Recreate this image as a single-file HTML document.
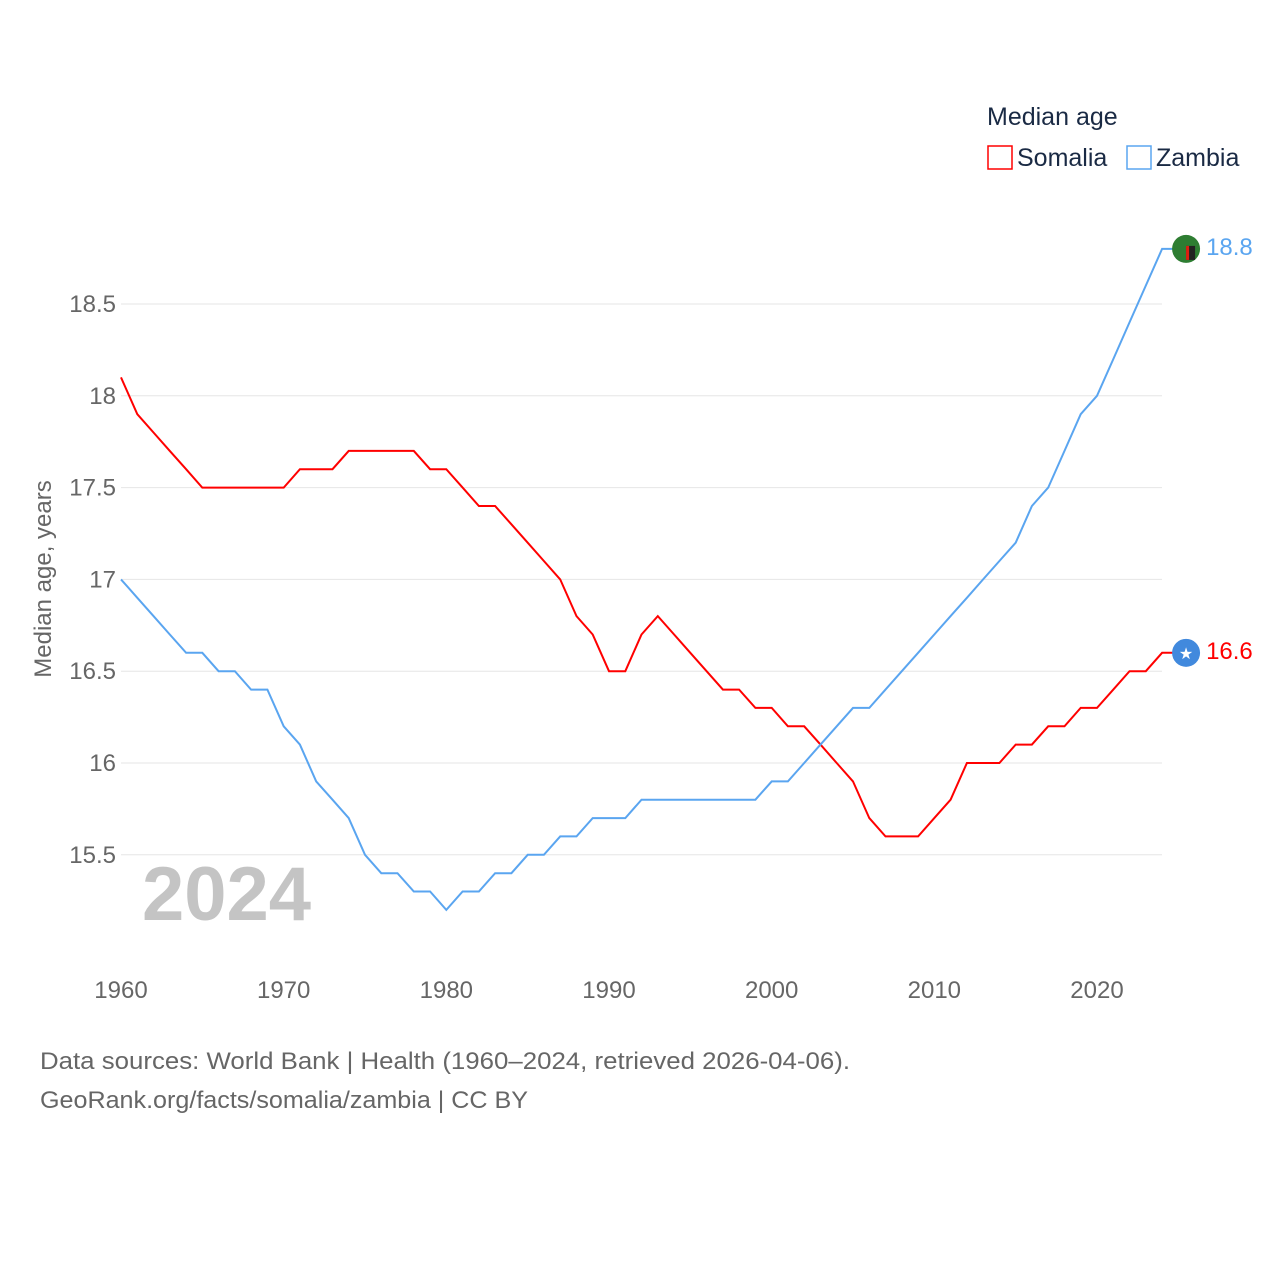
<!DOCTYPE html>
<html><head><meta charset="utf-8"><style>
body{margin:0;background:#fff;}
svg{display:block;font-family:"Liberation Sans",Lato,sans-serif;}
</style></head><body>
<svg id="chart" width="1280" height="1280" viewBox="0 0 1280 1280">
<g id="grid"></g>
<g id="yticks"></g>
<g id="xticks"></g>
<text x="51" y="579" transform="rotate(-90 51 579)" text-anchor="middle" font-size="24" fill="#666">Median age, years</text>
<text x="142" y="920" font-size="76" font-weight="bold" fill="#c4c4c4">2024</text>
<g id="series"></g>
<g>
<text x="987" y="125" font-size="25" fill="#1a2a44">Median age</text>
<g><rect x="988" y="146" width="24" height="23" fill="none" stroke="#f00" stroke-width="1.5"/><text x="1017" y="166" font-size="25" fill="#1a2a44">Somalia</text></g>
<g><rect x="1127" y="146" width="24" height="23" fill="none" stroke="#5aa5f0" stroke-width="1.5"/><text x="1156" y="166" font-size="25" fill="#1a2a44">Zambia</text></g>
</g>
<text x="40" y="1069" font-size="24" fill="#666" textLength="810" lengthAdjust="spacingAndGlyphs">Data sources: World Bank | Health (1960–2024, retrieved 2026-04-06).</text>
<text x="40" y="1108" font-size="24" fill="#666" textLength="488" lengthAdjust="spacingAndGlyphs">GeoRank.org/facts/somalia/zambia | CC BY</text>
</svg>
<script>
const years=[];for(let y=1960;y<=2024;y++)years.push(y);
const somalia=[18.1,17.9,17.8,17.7,17.6,17.5,17.5,17.5,17.5,17.5,17.5,17.6,17.6,17.6,17.7,17.7,17.7,17.7,17.7,17.6,17.6,17.5,17.4,17.4,17.3,17.2,17.1,17.0,16.8,16.7,16.5,16.5,16.7,16.8,16.7,16.6,16.5,16.4,16.4,16.3,16.3,16.2,16.2,16.1,16.0,15.9,15.7,15.6,15.6,15.6,15.7,15.8,16.0,16.0,16.0,16.1,16.1,16.2,16.2,16.3,16.3,16.4,16.5,16.5,16.6];
const zambia=[17.0,16.9,16.8,16.7,16.6,16.6,16.5,16.5,16.4,16.4,16.2,16.1,15.9,15.8,15.7,15.5,15.4,15.4,15.3,15.3,15.2,15.3,15.3,15.4,15.4,15.5,15.5,15.6,15.6,15.7,15.7,15.7,15.8,15.8,15.8,15.8,15.8,15.8,15.8,15.8,15.9,15.9,16.0,16.1,16.2,16.3,16.3,16.4,16.5,16.6,16.7,16.8,16.9,17.0,17.1,17.2,17.4,17.5,17.7,17.9,18.0,18.2,18.4,18.6,18.8];
const yTicks=[15.5,16,16.5,17,17.5,18,18.5];
const yTickLabels=["15.5","16","16.5","17","17.5","18","18.5"];
const xTicks=[1960,1970,1980,1990,2000,2010,2020];
const NS="http://www.w3.org/2000/svg";
const X=v=>121+(v-1960)*(976/60);
const Y=v=>763-(v-16)*183.6;
function mk(tag,attrs,parent){const e=document.createElementNS(NS,tag);for(const k in attrs)e.setAttribute(k,attrs[k]);parent.appendChild(e);return e;}
const grid=document.getElementById('grid'),yt=document.getElementById('yticks'),xt=document.getElementById('xticks'),ser=document.getElementById('series');
yTicks.forEach((v,i)=>{
 const l=mk('line',{x1:121,x2:1162,y1:Y(v),y2:Y(v),stroke:'#e6e6e6','stroke-width':1},grid);
 
 
 const t=mk('text',{x:116,y:Y(v)+8,'text-anchor':'end','font-size':24,fill:'#666'},yt);
 t.textContent=yTickLabels[i];
 
 
});
xTicks.forEach(v=>{
 const t=mk('text',{x:X(v),y:998,'text-anchor':'middle','font-size':24,fill:'#666'},xt);
 t.textContent=v;
 
 
});
function line(vals,color,name){
 let d=vals.map((v,i)=>(i?'L':'M')+X(years[i]).toFixed(1)+' '+Y(v).toFixed(1)).join(' ');
 const last=vals[vals.length-1];
 d+=' L'+(X(2024)+24)+' '+Y(last).toFixed(1);
 const p=mk('path',{d:d,fill:'none',stroke:color,'stroke-width':2},ser);
 
 
 const t=mk('text',{x:X(2024)+44,y:Y(last)+6,'font-size':24,fill:color},ser);
 t.textContent=last.toFixed(1);
 
 
 return Y(last);
}
const ys=line(somalia,'#ff0000','somalia');
const yz=line(zambia,'#5aa5f0','zambia');
const mx=X(2024)+24;
const ms=mk('circle',{cx:mx,cy:ys,r:14,fill:'#4189dd'},ser);


const st=mk('text',{x:mx,y:ys+6,'text-anchor':'middle','font-size':16,fill:'#fff'},ser);st.textContent='★';


const mz=mk('circle',{cx:mx,cy:yz,r:14,fill:'#2e7d32'},ser);


const zb=mk('rect',{x:mx,y:yz-3,width:9,height:14,fill:'#222'},ser);


const zr=mk('rect',{x:mx,y:yz-3,width:3,height:14,fill:'#de2010'},ser);


</script>
</body></html>
